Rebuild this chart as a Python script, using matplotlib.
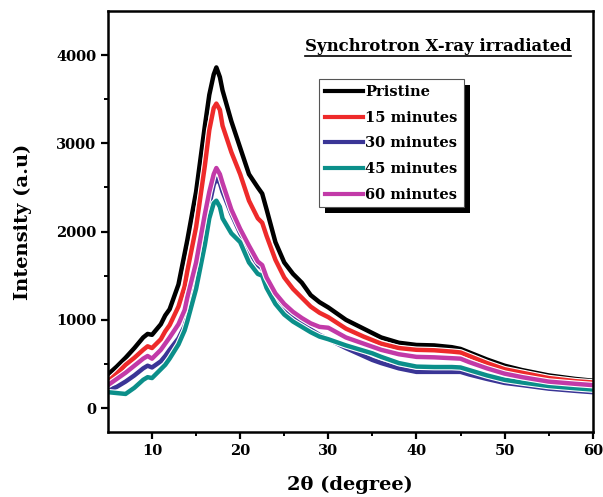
import matplotlib
matplotlib.use("Agg")
import matplotlib.pyplot as plt
import matplotlib.patheffects as pe
from matplotlib.patches import Rectangle
from matplotlib.lines import Line2D

# 2theta positions (degree) shared by all curves
two_theta = [5, 6, 7, 8, 9, 9.5, 10, 11, 11.5, 12, 13, 13.7, 14, 15, 16, 16.5, 17,
             17.3, 17.7, 18, 19, 20, 21, 22, 22.5, 23, 24, 25, 26, 27, 28, 29, 30,
             32, 34, 35, 36, 38, 40, 42, 44, 45, 46, 48, 50, 52, 55, 58, 60]

pristine = [380, 470, 570, 680, 800, 840, 830, 950, 1050, 1120, 1400, 1750, 1900, 2450,
            3200, 3550, 3780, 3860, 3750, 3600, 3250, 2950, 2650, 2500, 2430, 2250, 1880,
            1650, 1520, 1420, 1280, 1200, 1140, 1000, 900, 850, 800, 740, 715, 710, 690,
            670, 630, 550, 480, 430, 370, 330, 310]
min15 = [300, 390, 490, 570, 660, 700, 680, 780, 870, 940, 1150, 1380, 1550, 2050,
         2750, 3150, 3400, 3450, 3380, 3200, 2900, 2650, 2350, 2150, 2100, 1950, 1680,
         1480, 1350, 1250, 1150, 1080, 1030, 900, 810, 770, 730, 680, 660, 655, 640,
         630, 590, 510, 440, 400, 340, 305, 290]
min30 = [200, 240, 300, 370, 450, 480, 460, 530, 590, 660, 790, 930, 1050, 1450,
         2000, 2300, 2530, 2600, 2550, 2450, 2200, 1980, 1780, 1620, 1580, 1450, 1260,
         1130, 1040, 960, 890, 830, 780, 680, 590, 545, 510, 450, 410, 410, 410,
         410, 380, 330, 285, 260, 220, 195, 180]
min45 = [180, 170, 160, 230, 320, 350, 340, 440, 490, 560, 720, 880, 980, 1350,
         1850, 2150, 2320, 2350, 2280, 2150, 1980, 1880, 1650, 1520, 1500, 1360, 1180,
         1060, 980, 920, 860, 810, 780, 710, 650, 620, 580, 510, 470, 465, 465,
         460, 430, 370, 320, 290, 250, 225, 210]
min60 = [260, 330, 400, 480, 560, 590, 560, 660, 730, 800, 950, 1110, 1250, 1650,
         2200, 2450, 2650, 2720, 2650, 2550, 2250, 2030, 1840, 1660, 1620, 1480, 1300,
         1180, 1090, 1020, 960, 920, 910, 800, 730, 695, 660, 610, 580, 575, 565,
         560, 520, 450, 390, 350, 300, 275, 260]

labels = ["Pristine", "15 minutes", "30 minutes", "45 minutes", "60 minutes"]
colors = ["#000000", "#ee2a2a", "#3a3596", "#0b8f8a", "#c23aa8"]

plt.rcParams["font.family"] = "DejaVu Serif"
plt.rcParams["font.weight"] = "bold"

fig = plt.figure(figsize=(6.03, 4.97), dpi=100)
ax = fig.add_axes([0.179, 0.131, 0.804, 0.847])

series = [pristine, min15, min30, min45, min60]
handles = []
for ys, lab, col in zip(series, labels, colors):
    ax.plot(two_theta, ys, color=col, lw=3.2, label=lab,
            path_effects=[pe.Stroke(linewidth=4.8, foreground="white"), pe.Normal()])
    handles.append(Line2D([], [], color=col, lw=3))

ax.set_xlim(5, 60)
ax.set_ylim(-270, 4500)
ax.set_xticks([10, 20, 30, 40, 50, 60])
ax.set_xticks([15, 25, 35, 45, 55], minor=True)
ax.set_yticks([0, 1000, 2000, 3000, 4000])
ax.set_yticks([500, 1500, 2500, 3500], minor=True)
ax.tick_params(which="major", direction="out", length=5, width=1.6, labelsize=10.5)
ax.tick_params(which="minor", direction="out", length=3, width=1.4)
for s in ax.spines.values():
    s.set_linewidth(1.8)

ax.set_xlabel("2θ (degree)", fontsize=14, fontweight="bold", labelpad=13)
ax.set_ylabel("Intensity (a.u)", fontsize=14, fontweight="bold", labelpad=17)

title = ax.text(0.406, 0.915, "Synchrotron X-ray irradiated", transform=ax.transAxes,
                fontsize=11.9, fontweight="bold", ha="left", va="center")

leg = ax.legend(handles=handles, labels=labels, loc="upper left",
                bbox_to_anchor=(0.435, 0.838), fancybox=False, framealpha=1,
                edgecolor="#555555", prop={"weight": "bold", "size": 10.5},
                handlelength=2.6, handletextpad=0.2, labelspacing=0.8,
                borderpad=0.4, borderaxespad=0)
leg.get_frame().set_linewidth(0.8)
leg.set_zorder(6)

# underline for the title and black shadow behind the legend
fig.canvas.draw()
r = fig.canvas.get_renderer()
inv = fig.transFigure.inverted()
tb = title.get_window_extent(r)
(x0, y0), (x1, _) = inv.transform([(tb.x0, tb.y0 - 1), (tb.x1, tb.y0 - 1)])
fig.add_artist(Line2D([x0, x1], [y0, y0], color="black", lw=1.2, transform=fig.transFigure))

axinv = ax.transAxes.inverted()
lb = leg.get_window_extent(r)
(a0, b0), (a1, b1) = axinv.transform([(lb.x0 + 6, lb.y0 - 6), (lb.x1 + 6, lb.y1 - 6)])
ax.add_patch(Rectangle((a0, b0), a1 - a0, b1 - b0, transform=ax.transAxes,
                       facecolor="black", edgecolor="none", zorder=5, clip_on=False))

fig.savefig("out.png", dpi=100)
